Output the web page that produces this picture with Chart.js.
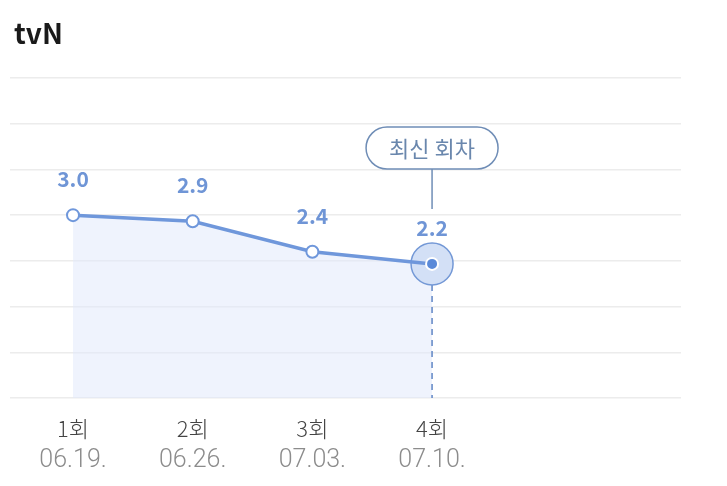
<!DOCTYPE html>
<html>
<head>
<meta charset="utf-8">
<script src="https://cdn.jsdelivr.net/npm/chart.js@4/dist/chart.umd.min.js"></script>
<style>
html,body{margin:0;padding:0;background:#fff;}
#wrap{position:relative;width:727px;height:486px;}
</style>
</head>
<body>
<div id="wrap"><canvas id="c" width="727" height="486"></canvas></div>
<script>
const titleText = 'tvN';
const episodes = ['1회', '2회', '3회', '4회'];
const dates = ['06.19.', '06.26.', '07.03.', '07.10.'];
const ratings = [3.0, 2.9, 2.4, 2.2];
const badgeText = '최신 회차';
const yMin = 0, yMax = 5.25, yStep = 0.75;

const LINE = '#6f97db';
const KFONT = '"Noto Sans CJK KR", "Noto Sans", sans-serif';

const overlay = {
  id: 'overlay',
  beforeDatasetsDraw(chart) {
    const ctx = chart.ctx;
    const meta = chart.getDatasetMeta(0);
    const last = meta.data[meta.data.length - 1];
    const ca = chart.chartArea;
    ctx.save();
    ctx.strokeStyle = '#5f86c6';
    ctx.lineWidth = 1.5;
    ctx.setLineDash([6, 5]);
    ctx.beginPath();
    ctx.moveTo(last.x, last.y + 21);
    ctx.lineTo(last.x, ca.bottom);
    ctx.stroke();
    ctx.setLineDash([]);
    ctx.beginPath();
    ctx.arc(last.x, last.y, 21, 0, Math.PI * 2);
    ctx.fillStyle = '#d3e0f6';
    ctx.fill();
    ctx.strokeStyle = '#7398d6';
    ctx.lineWidth = 1.5;
    ctx.stroke();
    ctx.restore();
  },
  afterDatasetsDraw(chart) {
    const ctx = chart.ctx;
    const meta = chart.getDatasetMeta(0);
    const ca = chart.chartArea;
    ctx.save();
    ctx.font = 'bold 21px ' + KFONT;
    ctx.fillStyle = '#6f95d6';
    ctx.textAlign = 'center';
    ctx.textBaseline = 'middle';
    meta.data.forEach((p, i) => {
      ctx.fillText(ratings[i].toFixed(1), p.x, p.y - 36);
    });
    const last = meta.data[meta.data.length - 1];
    const w = 132, h = 42, cx = last.x, top = ca.top + 49;
    ctx.beginPath();
    ctx.roundRect(cx - w / 2, top, w, h, h / 2);
    ctx.fillStyle = '#fff';
    ctx.fill();
    ctx.strokeStyle = '#6f8db6';
    ctx.lineWidth = 1.5;
    ctx.stroke();
    ctx.fillStyle = '#6a87ad';
    ctx.font = '22px ' + KFONT;
    ctx.fillText(badgeText, cx, top + h / 2 + 1);
    ctx.beginPath();
    ctx.moveTo(cx, top + h);
    ctx.lineTo(cx, last.y - 55);
    ctx.stroke();
    const xs = chart.scales.x;
    episodes.forEach((e, i) => {
      const x = xs.getPixelForValue(i + 1);
      ctx.fillStyle = '#444';
      ctx.font = '300 22px ' + KFONT;
      ctx.fillText(e, x, ca.bottom + 31);
      ctx.fillStyle = '#8c8c8c';
      ctx.font = '300 25px Roboto, ' + KFONT;
      ctx.fillText(dates[i], x, ca.bottom + 63);
    });
    ctx.textAlign = 'left';
    ctx.fillStyle = '#1a1a1a';
    ctx.font = 'bold 28px ' + KFONT;
    ctx.fillText(titleText, 14, 33);
    ctx.restore();
  }
};

new Chart(document.getElementById('c'), {
  type: 'line',
  data: {
    datasets: [{
      data: ratings.map((v, i) => ({ x: i + 1, y: v })),
      borderColor: LINE,
      borderWidth: 3.5,
      fill: 'origin',
      backgroundColor: 'rgba(225,234,251,0.55)',
      tension: 0,
      pointRadius: 6,
      pointBackgroundColor: ratings.map((v, i) => i === ratings.length - 1 ? '#5b8ad8' : '#fff'),
      pointBorderColor: ratings.map((v, i) => i === ratings.length - 1 ? '#fff' : LINE),
      pointBorderWidth: 2
    }]
  },
  plugins: [overlay],
  options: {
    responsive: false,
    animation: false,
    events: [],
    layout: { padding: { top: 78, left: 10, right: 46, bottom: 88 } },
    plugins: {
      legend: { display: false },
      tooltip: { enabled: false },
      filler: { drawTime: 'beforeDatasetsDraw' }
    },
    scales: {
      x: {
        type: 'linear',
        display: false,
        min: 0.4735,
        max: 6.08
      },
      y: {
        min: yMin,
        max: yMax,
        ticks: { display: false, stepSize: yStep },
        border: { display: false },
        grid: { color: '#ececec', lineWidth: 1.5, drawTicks: false }
      }
    }
  }
});
</script>
</body>
</html>
